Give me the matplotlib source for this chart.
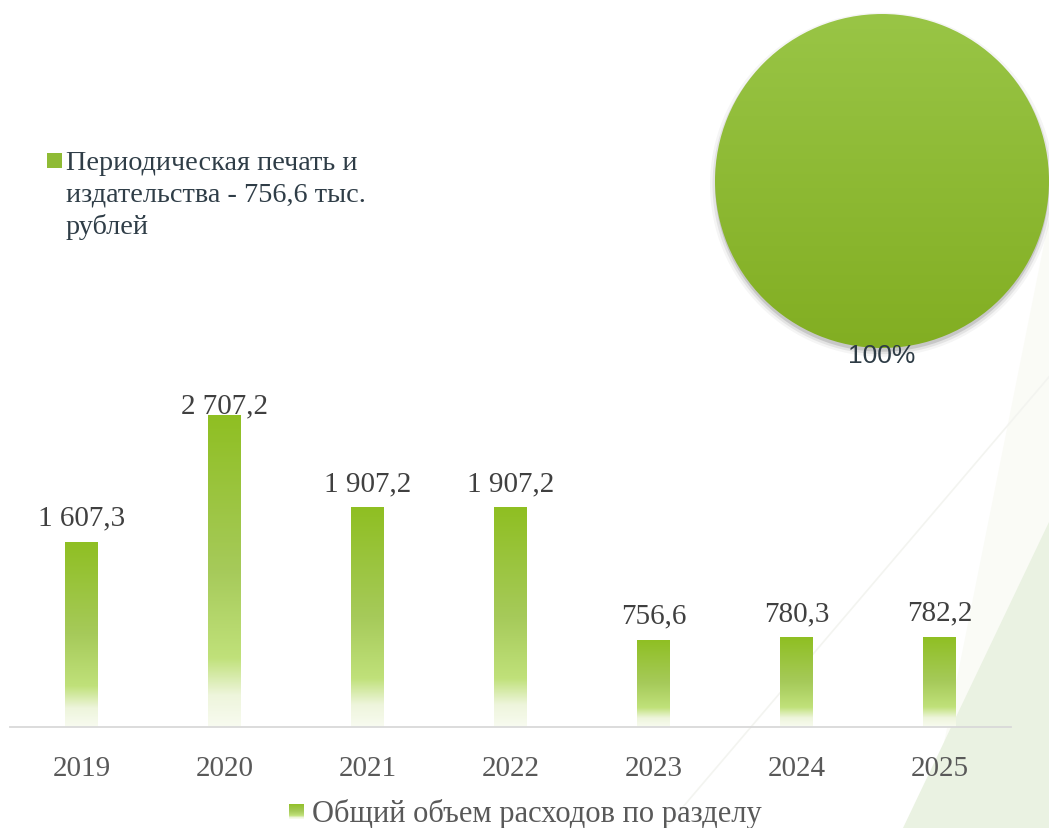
import numpy as np
import matplotlib.pyplot as plt
from matplotlib.colors import LinearSegmentedColormap
from matplotlib.patches import Rectangle, Circle, Polygon

# data
years = ["2019", "2020", "2021", "2022", "2023", "2024", "2025"]
totals = [1607.3, 2707.2, 1907.2, 1907.2, 756.6, 780.3, 782.2]
total_labels = ["1 607,3", "2 707,2", "1 907,2", "1 907,2", "756,6", "780,3", "782,2"]
bar_legend = "Общий объем расходов по разделу"

pie_values = [756.6]
pie_legend = "Периодическая печать и\nиздательства - 756,6 тыс.\nрублей"

W, H = 1049, 829
SERIF = "Liberation Serif"
SANS = "Liberation Sans"

bar_cmap = LinearSegmentedColormap.from_list(
    "bar", [(0, "#f8fbf0"), (0.1, "#eef5dc"), (0.22, "#c0e17a"), (0.5, "#a6ca5a"), (1, "#8fbf22")])
pie_cmap = LinearSegmentedColormap.from_list("pie", ["#82ae22", "#99c546"])
grad = np.linspace(0, 1, 256).reshape(-1, 1)

fig = plt.figure(figsize=(W / 100, H / 100), dpi=100)

# background decoration, pixel coordinates
bg = fig.add_axes([0, 0, 1, 1])
bg.set_xlim(0, W)
bg.set_ylim(H, 0)
bg.axis("off")
bg.add_patch(Polygon([(1049, 220), (1049, 829), (927, 829)], closed=True, color="#fafbf6", lw=0))
bg.add_patch(Polygon([(1049, 523), (1049, 829), (903, 829)], closed=True, color="#eaf2e2", lw=0))
bg.plot([1060, 665], [365, 829], color="#f3f4f0", lw=1.2)

# bar chart
ymax = 2906
ax_h = 335
ax = fig.add_axes([10 / W, (H - 728) / H, 1001 / W, ax_h / H])
ax.patch.set_alpha(0)
x = np.arange(len(years))
bars = ax.bar(x, totals, width=0.227, color="none", zorder=2)
units_per_px = ymax / ax_h
for b, lab in zip(bars, total_labels):
    x0, w, h = b.get_x(), b.get_width(), b.get_height()
    im = ax.imshow(grad, cmap=bar_cmap, origin="lower", aspect="auto",
                   extent=[x0, x0 + w, 0, h], zorder=2)
    im.set_clip_path(b)
    ty = min(h + 17 * units_per_px, ymax - 20 * units_per_px)
    ax.text(x0 + w / 2, ty, lab, ha="center", va="baseline",
            fontsize=21, family=SERIF, color="#404040", clip_on=False)
ax.set_xlim(-0.5, len(years) - 0.5)
ax.set_ylim(0, ymax)
ax.set_xticks(x, years)
ax.tick_params(axis="x", length=0, pad=20, labelsize=21, labelcolor="#595959")
for t in ax.get_xticklabels():
    t.set_family(SERIF)
ax.set_yticks([])
for s in ["left", "right", "top"]:
    ax.spines[s].set_visible(False)
ax.spines["bottom"].set_color("#d9d9d9")
ax.spines["bottom"].set_linewidth(1.3)

# pie
pr = 167
pax = fig.add_axes([(882 - pr) / W, (H - 182 - pr) / H, 2 * pr / W, 2 * pr / H])
wedges, _ = pax.pie(pie_values, colors=["none"], radius=1, startangle=90, counterclock=False)
for r, a in [(1.03, 0.04), (1.015, 0.07), (1.0, 0.12)]:
    pax.add_patch(Circle((0.0, -0.022), r, color="#000000", alpha=a, lw=0, zorder=0, clip_on=False))
pim = pax.imshow(grad, cmap=pie_cmap, origin="lower", extent=[-1, 1, -1, 1], zorder=3)
pim.set_clip_path(wedges[0])
pax.set_xlim(-1, 1)
pax.set_ylim(-1, 1)
pax.set_aspect("equal")
pax.axis("off")
pct = round(100 * pie_values[0] / sum(pie_values))
pax.text(0, -1.04, f"{pct}%", ha="center", va="center", fontsize=19,
         family=SANS, color="#2d3b45", zorder=5, clip_on=False)

# legends
bg.add_patch(Rectangle((47, 154), 15, 15, color="#8fbb35", lw=0))
bg.text(66, 151, pie_legend, ha="left", va="top", fontsize=20.3, family=SERIF,
        color="#2f3d47", linespacing=1.34)

leg = fig.add_axes([289 / W, (H - 820) / H, 14 / W, 15 / H])
leg.imshow(grad, cmap=bar_cmap, origin="lower", aspect="auto", extent=[0, 1, 0, 1])
leg.axis("off")
bg.text(312, 814, bar_legend, ha="left", va="center", fontsize=22, family=SERIF, color="#595959")

fig.savefig("out.png", dpi=100)
